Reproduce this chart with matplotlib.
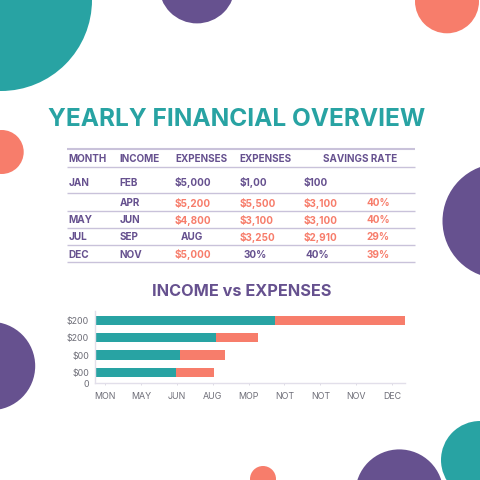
import matplotlib
matplotlib.use("Agg")
import matplotlib.pyplot as plt
import numpy as np
from matplotlib.patches import Circle

TEAL = "#28a3a3"
PURPLE = "#66518f"
CORAL = "#f77d6b"
GRID = "#c9c2da"
GRAY = "#6e6e78"

plt.rcParams["font.family"] = ["Inter", "DejaVu Sans"]

# table content
header = ["MONTH", "INCOME", "EXPENSES", "EXPENSES", "SAVINGS RATE"]
rows = [
    ["JAN", "FEB", "$5,000", "$1,00", "$100", ""],
    ["", "APR", "$5,200", "$5,500", "$3,100", "40%"],
    ["MAY", "JUN", "$4,800", "$3,100", "$3,100", "40%"],
    ["JUL", "SEP", "AUG", "$3,250", "$2,910", "29%"],
    ["DEC", "NOV", "$5,000", "30%", "40%", "39%"],
]

# bar chart content
bar_labels = ["$200", "$200", "$00", "$00"]
income = [179.4, 120.7, 84.7, 80.4]
expenses = [130.0, 42.3, 45.3, 38.6]
months = ["MON", "MAY", "JUN", "AUG", "MOP", "NOT", "NOT", "NOV", "DEC"]

fig = plt.figure(figsize=(4.8, 4.8), dpi=100, facecolor="white")

# background layer in pixel coordinates
bg = fig.add_axes([0, 0, 1, 1])
bg.set_xlim(0, 480)
bg.set_ylim(480, 0)
bg.axis("off")

for cx, cy, r, c in [
    (1, 0, 91, TEAL), (197, -14.6, 38, PURPLE), (447, 1.3, 32, CORAL),
    (1.7, 152, 22, CORAL), (500, 221, 57.5, PURPLE), (-9, 366, 44.2, PURPLE),
    (263, 479, 13, CORAL), (399.3, 493.4, 44, PURPLE), (480, 460, 39, TEAL),
]:
    bg.add_patch(Circle((cx, cy), r, color=c, lw=0))

bg.text(236.5, 117.5, "YEARLY FINANCIAL OVERVIEW", color=TEAL, fontsize=17.6,
        fontweight="bold", ha="center", va="center_baseline")

# table rules
for i, y in enumerate([149.3, 167.3, 193.3, 210.7, 227.7, 245, 262.3]):
    bg.plot([67.3, 415], [y, y], color=GRID, lw=1.5 if i == 0 else 1.0,
            solid_capstyle="butt")

col_x = [68.7, 119.3, 175, 239.3, 303.3]
for x, label in zip(col_x[:4], header[:4]):
    bg.text(x, 158.3, label, color=PURPLE, fontsize=7.1, fontweight="bold",
            ha="left", va="center_baseline")
bg.text(360, 158.3, header[4], color=PURPLE, fontsize=7.1, fontweight="bold",
        ha="center", va="center_baseline")

row_y = [181.7, 202.3, 219, 236.3, 253.7]
centered = {(3, 2): 192.3, (4, 3): 255, (4, 4): 317.7}
for i, (row, y) in enumerate(zip(rows, row_y)):
    for j, val in enumerate(row):
        if not val:
            continue
        # first row and the non money cells are purple, the rest coral
        is_purple = j < 2 or i == 0 or (i, j) in centered
        color = PURPLE if is_purple else CORAL
        if j == 5:
            x, ha = 378, "center"
        elif (i, j) in centered:
            x, ha = centered[(i, j)], "center"
        else:
            x, ha = col_x[j], "left"
        bg.text(x, y, val, color=color, fontsize=7.2, fontweight="bold",
                ha=ha, va="center_baseline")

bg.text(242, 290.5, "INCOME vs EXPENSES", color=PURPLE, fontsize=11.7,
        fontweight="bold", ha="center", va="center_baseline")

# bar chart, axes box placed at the pixel position of the reference
ax = fig.add_axes([95.3 / 480, 1 - 383.3 / 480, 309.4 / 480, 72.3 / 480])
ax.patch.set_alpha(0)
y = np.array([4, 3, 2, 1])
ax.barh(y, income, height=0.53, color=TEAL)
ax.barh(y, expenses, left=income, height=0.53, color=CORAL)
ax.set_xlim(0, 309.4)
ax.set_ylim(0.38, 4.53)
ax.set_xticks(9.7 + 35.9 * np.arange(len(months)))
ax.set_xticklabels(months)
ax.set_yticks(list(y) + [0.38])
ax.set_yticklabels(bar_labels + ["0"])
for s in ["top", "right"]:
    ax.spines[s].set_visible(False)
for s in ["left", "bottom"]:
    ax.spines[s].set_color("#e2dfea")
    ax.spines[s].set_linewidth(1.0)
ax.tick_params(axis="x", length=1.5, width=0.6, color="#d8d5e0", labelsize=6.4,
               labelcolor=GRAY, pad=4.5)
ax.tick_params(axis="y", length=0, labelsize=6.4, labelcolor=GRAY, pad=4.5)

fig.savefig("out.png", dpi=100)
